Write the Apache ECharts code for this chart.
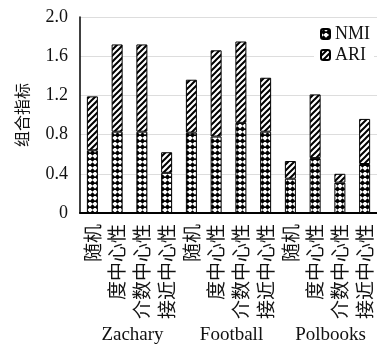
<!DOCTYPE html>
<html>
<head>
<meta charset="utf-8">
<script src="https://cdn.jsdelivr.net/npm/echarts@6/dist/echarts.min.js"></script>
<style>
  html, body { margin: 0; padding: 0; background: #fff; }
  #chart { width: 377px; height: 347px; }
</style>
</head>
<body>
<div id="chart"></div>
<script>
// Methods (x categories), repeated for each network
const methods = ['随机', '度中心性', '介数中心性', '接近中心性',
                 '随机', '度中心性', '介数中心性', '接近中心性',
                 '随机', '度中心性', '介数中心性', '接近中心性'];
// Network names shown under each group of four bars
const networks = ['Zachary', 'Football', 'Polbooks'];
// Stacked metric values
const nmiValues = [0.64, 0.83, 0.83, 0.41, 0.82, 0.78, 0.92, 0.83, 0.35, 0.56, 0.31, 0.50];
const ariValues = [0.55, 0.89, 0.89, 0.21, 0.54, 0.88, 0.83, 0.55, 0.18, 0.65, 0.09, 0.46];
// Y tick labels
const yTicks = ['0', '0.4', '0.8', '1.2', '1.6', '2.0'];

const serif = '"Liberation Serif", "DejaVu Serif", serif';
const cjk = '"Noto Sans CJK SC", sans-serif';

// Dotted fill: rows of black diamonds on white
function diamondPattern() {
  const c = document.createElement('canvas');
  c.width = 5; c.height = 6;
  const g = c.getContext('2d');
  g.fillStyle = '#fff';
  g.fillRect(0, 0, 5, 6);
  g.fillStyle = '#000';
  g.beginPath();
  g.moveTo(2.5, 0.2); g.lineTo(5.2, 3); g.lineTo(2.5, 5.8); g.lineTo(-0.2, 3);
  g.closePath();
  g.fill();
  return c;
}
// Hatched fill: "/" diagonal stripes
function hatchPattern() {
  const s = 6;
  const c = document.createElement('canvas');
  c.width = s; c.height = s;
  const g = c.getContext('2d');
  g.fillStyle = '#fff';
  g.fillRect(0, 0, s, s);
  g.strokeStyle = '#000';
  g.lineWidth = 2;
  g.beginPath();
  g.moveTo(-1, s + 1); g.lineTo(s + 1, -1);
  g.moveTo(-1, 1); g.lineTo(1, -1);
  g.moveTo(s - 1, s + 1); g.lineTo(s + 1, s - 1);
  g.stroke();
  return c;
}

const chart = echarts.init(document.getElementById('chart'), null, { renderer: 'canvas' });
chart.setOption({
  animation: false,
  backgroundColor: '#fff',
  grid: { left: 80, top: 17, width: 301, height: 196 },
  legend: {
    data: ['NMI', 'ARI'],
    orient: 'vertical',
    right: 3,
    top: 22,
    itemWidth: 9,
    itemHeight: 10,
    itemGap: 3,
    backgroundColor: '#fff',
    padding: [3, 4, 3, 6],
    textStyle: { fontFamily: serif, fontSize: 18, color: '#111' }
  },
  xAxis: [
    {
      type: 'category',
      data: methods,
      axisLine: { lineStyle: { color: '#000', width: 2 } },
      axisTick: { show: false },
      axisLabel: {
        interval: 0,
        rotate: 90,
        margin: 11,
        fontFamily: cjk,
        fontSize: 19,
        color: '#111'
      }
    },
    {
      type: 'category',
      position: 'bottom',
      data: networks,
      axisLine: { show: false },
      axisTick: { show: false },
      axisLabel: {
        interval: 0,
        margin: 113,
        fontFamily: serif,
        fontSize: 19,
        color: '#111',
        padding: [0, 0, 0, 6]
      }
    }
  ],
  yAxis: {
    type: 'value',
    min: 0,
    max: 2,
    interval: 0.4,
    name: '组合指标',
    nameLocation: 'middle',
    nameRotate: 90,
    nameGap: 50,
    nameTextStyle: { fontFamily: cjk, fontSize: 16, color: '#111' },
    axisLine: { show: true, lineStyle: { color: '#000', width: 1.5 } },
    axisTick: { show: false },
    splitLine: { lineStyle: { color: '#ddd', width: 1 } },
    axisLabel: {
      margin: 12,
      fontFamily: serif,
      fontSize: 18,
      color: '#111',
      formatter: v => yTicks[Math.round(v / 0.4)]
    }
  },
  series: [
    {
      name: 'NMI',
      type: 'bar',
      stack: 'total',
      barWidth: 11,
      data: nmiValues,
      itemStyle: {
        color: { image: diamondPattern(), repeat: 'repeat' },
        borderColor: '#000',
        borderWidth: 1
      }
    },
    {
      name: 'ARI',
      type: 'bar',
      stack: 'total',
      barWidth: 11,
      data: ariValues,
      itemStyle: {
        color: { image: hatchPattern(), repeat: 'repeat' },
        borderColor: '#000',
        borderWidth: 1
      }
    }
  ]
});
</script>
</body>
</html>
